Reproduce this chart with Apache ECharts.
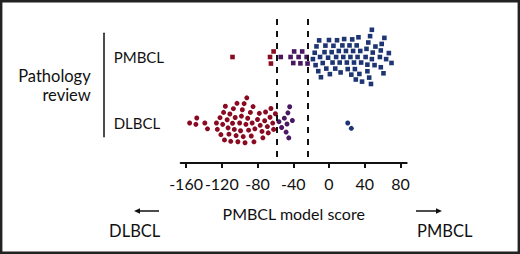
<!DOCTYPE html>
<html>
<head>
<meta charset="utf-8">
<script src="https://cdn.jsdelivr.net/npm/echarts@6/dist/echarts.min.js"></script>
<style>
  html, body { margin: 0; padding: 0; background: #fff; }
  #chart { width: 520px; height: 254px; }
</style>
</head>
<body>
<div id="chart"></div>
<script>
// 行名称（y轴）
const rowNames = ['DLBCL', 'PMBCL'];
// x轴刻度
const xTicks = [-160, -120, -80, -40, 0, 40, 80];
// 分界线（虚线）
const cutLow = -58;
const cutHigh = -23.5;

// 病理复核为 PMBCL 的模型分数
const pmbclScores = [
  -108, -66, -65, -62,
  -54, -43, -40, -39, -34, -32, -30, -25, -24,
  -18, -16, -15, -14, -12, -11, -10, -9,
  -7, -5, -4, -3, -1, 0, 1,
  3, 4, 5, 7, 8, 9, 11, 12,
  13, 15, 16, 17, 19, 20, 21,
  23, 24, 25, 26, 27, 28,
  29, 30, 31, 32, 33, 34, 35, 36, 37, 41, 42, 43, 43, 44, 45, 46, 47,
  48, 48, 49, 51, 52, 57, 58, 58, 59, 61, 62, 64, 67, 70,
];
// 病理复核为 DLBCL 的模型分数
const dlbclScores = [
  -156, -149, -148, -139, -136, -126, -125,
  -122, -121, -119, -118, -117, -116, -114, -113, -112,
  -111, -110, -108, -107, -106, -105, -104, -103, -102,
  -100, -99, -98, -97, -96, -95, -94, -93, -92,
  -91, -90, -88, -87, -86, -85, -84, -83,
  -80, -78, -77, -75, -74, -72, -71, -69, -68, -66, -65, -63, -62, -60,
  -56, -53, -50, -48, -47, -46, -45, -44, -41,
  21, 25,
];

const colors = { red: '#8a0a22', purple: '#4a1862', blue: '#1d3572' };
const font = 'Lato, "Noto Sans", sans-serif';

// 布局（像素）
const X_MIN = -166;
const X_MAX = 87;
const GRID_LEFT = 180.7;
const GRID_WIDTH = 226;
const GRID_TOP = 14;
const GRID_BOTTOM_Y = 157;
const ROW_Y = { 1: 57, 0: 123 };
const ROW_PX = ROW_Y[0] - ROW_Y[1];
const PX_PER_UNIT = GRID_WIDTH / (X_MAX - X_MIN);

// 蜂群图：按像素计算纵向偏移，避免点重叠
function swarm(values, diam) {
  const pts = values
    .map((v) => ({ v, x: (v - X_MIN) * PX_PER_UNIT, y: 0 }))
    .sort((a, b) => a.x - b.x);
  const placed = [];
  for (const p of pts) {
    const near = placed.filter((q) => p.x - q.x < diam);
    const cands = [0];
    near.forEach((q) => {
      const dy = Math.sqrt(diam * diam - (p.x - q.x) ** 2);
      cands.push(q.y + dy, q.y - dy);
    });
    cands.sort((a, b) => Math.abs(a) - Math.abs(b) || a - b);
    p.y = cands.find((c) =>
      near.every((q) => (p.x - q.x) ** 2 + (c - q.y) ** 2 >= diam * diam - 1e-6),
    );
    placed.push(p);
  }
  return pts;
}

function rowData(values, row, diam) {
  return swarm(values, diam).map((p) => [p.v, row + p.y / ROW_PX]);
}

function pointColor(params) {
  const v = params.value[0];
  if (v < cutLow) return colors.red;
  if (v < cutHigh) return colors.purple;
  return colors.blue;
}

const chart = echarts.init(document.getElementById('chart'), null, { renderer: 'svg' });

const option = {
  animation: false,
  grid: [
    {
      left: GRID_LEFT,
      width: GRID_WIDTH,
      top: GRID_TOP,
      height: GRID_BOTTOM_Y - GRID_TOP,
    },
    {
      left: 103.7,
      width: 1,
      top: 33.3,
      height: 103.4,
    },
  ],
  xAxis: [
    {
      type: 'value',
      gridIndex: 0,
      min: X_MIN,
      max: X_MAX,
      offset: 6,
      name: 'PMBCL model score',
      nameLocation: 'middle',
      nameGap: 42,
      nameTextStyle: { color: '#111', fontSize: 16, fontFamily: font },
      axisLine: { onZero: false, lineStyle: { color: '#111', width: 2 } },
      axisTick: { customValues: xTicks, length: 5, lineStyle: { color: '#111', width: 2 } },
      axisLabel: {
        customValues: xTicks,
        margin: 12,
        color: '#111',
        fontSize: 16,
        fontFamily: font,
      },
      splitLine: { show: false },
    },
    { type: 'value', gridIndex: 1, min: 0, max: 1, show: false },
  ],
  yAxis: [
    {
      type: 'value',
      gridIndex: 0,
      min: -(GRID_BOTTOM_Y - ROW_Y[0]) / ROW_PX,
      max: 1 + (ROW_Y[1] - GRID_TOP) / ROW_PX,
      show: false,
    },
    {
      type: 'value',
      gridIndex: 1,
      min: -(136.7 - ROW_Y[0]) / ROW_PX,
      max: 1 + (ROW_Y[1] - 33.3) / ROW_PX,
      name: 'Pathology\nreview',
      nameLocation: 'middle',
      nameGap: 13,
      nameRotate: 0,
      nameTextStyle: {
        color: '#111',
        fontSize: 16.5,
        lineHeight: 19,
        align: 'right',
        fontFamily: font,
      },
      axisLine: { show: true, onZero: false, lineStyle: { color: '#111', width: 1.5 } },
      axisTick: { show: false },
      splitLine: { show: false },
      axisLabel: {
        inside: true,
        margin: 10,
        customValues: [0, 1],
        formatter: (v) => rowNames[Math.round(v)],
        color: '#111',
        fontSize: 15,
        fontFamily: font,
        padding: [0, 0, 6, 0],
      },
    },
  ],
  series: [
    {
      name: 'PMBCL',
      type: 'scatter',
      symbol: 'rect',
      symbolSize: 4.6,
      itemStyle: { color: pointColor, opacity: 1 },
      data: rowData(pmbclScores, 1, 6.6),
      markLine: {
        silent: true,
        symbol: 'none',
        label: { show: false },
        lineStyle: { color: '#111', width: 2, type: [6, 6] },
        data: [{ xAxis: cutLow }, { xAxis: cutHigh }],
      },
    },
    {
      name: 'DLBCL',
      type: 'scatter',
      symbol: 'circle',
      symbolSize: 5,
      itemStyle: { color: pointColor, opacity: 1 },
      data: rowData(dlbclScores, 0, 6.4),
    },
  ],
  graphic: [
    {
      type: 'rect',
      shape: { x: 1.2, y: 1.2, width: 517.6, height: 251.6 },
      style: { fill: 'none', stroke: '#222', lineWidth: 2.4 },
    },
    // 左箭头
    { type: 'line', shape: { x1: 137, y1: 211, x2: 159, y2: 211 }, style: { stroke: '#111', lineWidth: 1.5 } },
    { type: 'polygon', shape: { points: [[134, 211], [140, 208.3], [140, 213.7]] }, style: { fill: '#111' } },
    // 右箭头
    { type: 'line', shape: { x1: 416, y1: 211, x2: 439, y2: 211 }, style: { stroke: '#111', lineWidth: 1.5 } },
    { type: 'polygon', shape: { points: [[442, 211], [436, 208.3], [436, 213.7]] }, style: { fill: '#111' } },
    {
      type: 'text',
      x: 134.7,
      y: 231,
      style: { text: 'DLBCL', fill: '#111', fontSize: 16.5, fontFamily: font, align: 'center', verticalAlign: 'middle' },
    },
    {
      type: 'text',
      x: 444.7,
      y: 231,
      style: { text: 'PMBCL', fill: '#111', fontSize: 16.5, fontFamily: font, align: 'center', verticalAlign: 'middle' },
    },
  ],
};

chart.setOption(option);
</script>
</body>
</html>
